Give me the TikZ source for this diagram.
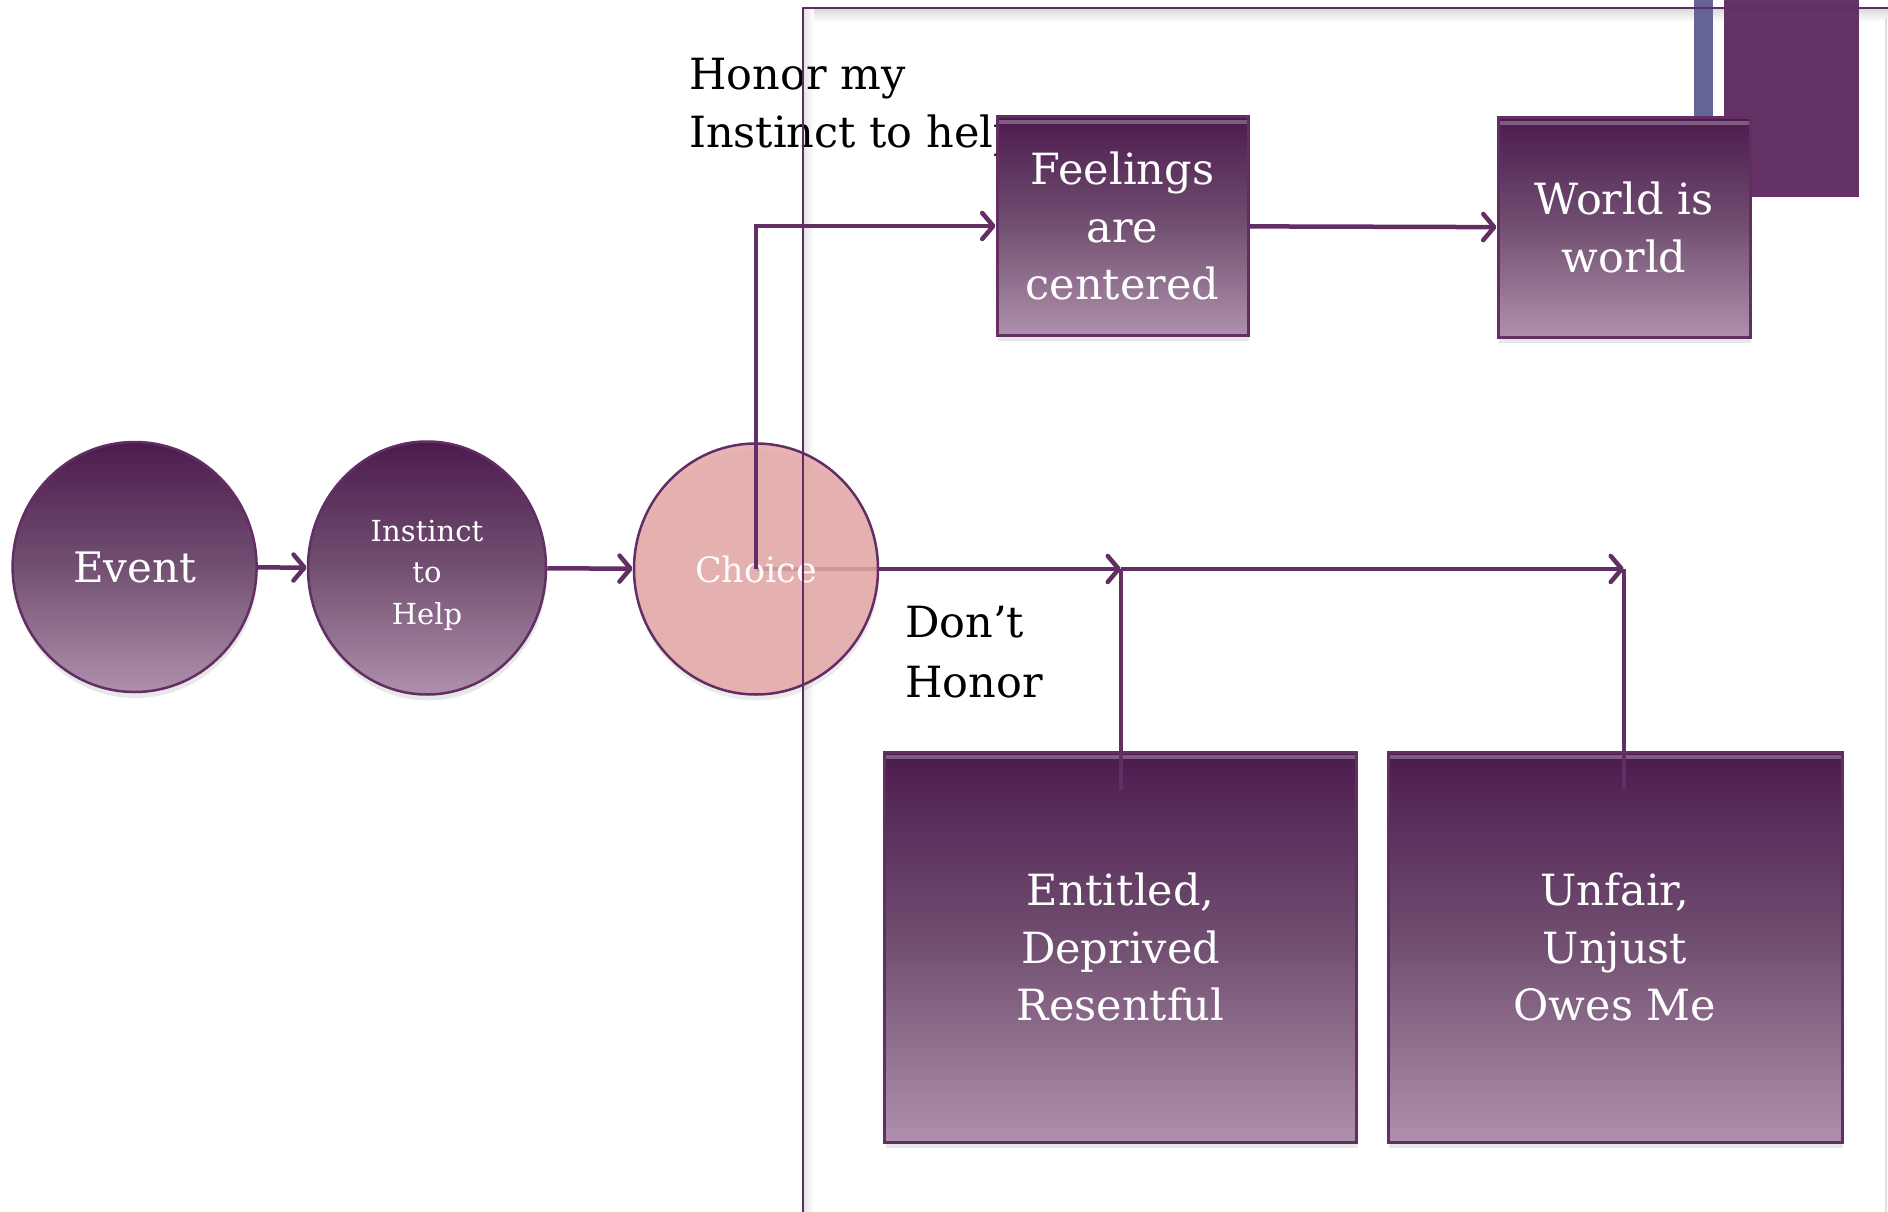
\documentclass[tikz,border=0pt]{standalone}
\usepackage{fontspec}
\setmainfont{DejaVu Serif}
\usetikzlibrary{arrows.meta,shapes.geometric,shadows,calc,backgrounds}
\definecolor{pdark}{RGB}{76,27,78}
\definecolor{pmid}{RGB}{114,80,114}
\definecolor{plight}{RGB}{174,144,172}
\definecolor{pline}{RGB}{99,46,100}
\definecolor{pframe}{RGB}{96,44,98}
\definecolor{pblock}{RGB}{100,50,100}
\definecolor{pblue}{RGB}{100,100,150}
\definecolor{choicefill}{RGB}{228,166,166}
\tikzset{
  grad/.style={draw=pline, top color=pdark, bottom color=plight, middle color=pmid, text=white,
    drop shadow={shadow xshift=1pt, shadow yshift=-6pt, opacity=0.18}},
  boxnode/.style={grad, rectangle, line width=3pt, inner sep=0pt,
    font=\fontsize{43}{57.5}\selectfont, align=center,
    path picture={\draw[white, opacity=0.28, line width=4pt]
      ([yshift=-5pt]path picture bounding box.north west) --
      ([yshift=-5pt]path picture bounding box.north east);}},
  ovalnode/.style={grad, ellipse, line width=2.5pt, inner sep=0pt, align=center},
  conn/.style={pline, line width=4.5pt},
  arr/.style={conn, -{Straight Barb[length=11pt,width=26pt,round]}},
  lbl/.style={text=black, inner sep=0pt, align=left, anchor=north west,
    font=\fontsize{43}{58}\selectfont},
}
\begin{document}
\begin{tikzpicture}[x=1pt,y=-1pt]
\useasboundingbox (0,0) rectangle (1888,1212);
% frame shadows
\shade[top color=black!14, bottom color=white] (804,9) rectangle (1888,22);
\shade[left color=black!10, right color=white] (804,9) rectangle (814,1212);
\draw[black!12, line width=1.2pt] (1886,18) -- (1886,1212);
% decorations top right
\fill[pblue] (1694,0) rectangle (1713,119);
\fill[pblock] (1724,0) rectangle (1859,197);
% labels
\node[lbl] (honor) at (689,58) {Honor my\\Instinct to help};
\node[lbl, font=\fontsize{43}{60}\selectfont] (dont) at (905,606) {Don’t\\Honor};
% nodes
\node[ovalnode, minimum width=244pt, minimum height=250pt,
  font=\fontsize{42}{50}\selectfont] (event) at (134.6,567) {Event};
\node[ovalnode, minimum width=238pt, minimum height=253pt,
  font=\fontsize{29}{41.5}\selectfont] (instinct) at (427,568) {\raisebox{0pt}[36pt][0pt]{}Instinct\\to\\Help};
\node[ellipse, draw=pline, line width=2.5pt, fill=choicefill, fill opacity=0.85,
  text opacity=1, text=white!96!choicefill, inner sep=0pt,
  minimum width=244pt, minimum height=251pt,
  font=\fontsize{35}{42}\selectfont,
  drop shadow={shadow xshift=1pt, shadow yshift=-6pt, opacity=0.15}] (choice) at (756,569) {Choice};
\node[boxnode, minimum width=251pt, minimum height=218pt] (feel) at (1122.5,226) {Feelings\\are\\centered};
\node[boxnode, minimum width=252pt, minimum height=219pt] (world) at (1624,227.5) {World is\\world};
\node[boxnode, minimum width=472pt, minimum height=390pt] (ent) at (1120.5,947) {Entitled,\\Deprived\\Resentful};
\node[boxnode, minimum width=454pt, minimum height=390pt] (unf) at (1615,947) {Unfair,\\Unjust\\Owes Me};
% junction coordinates
\coordinate (j1) at (1121,569);
\coordinate (j2) at (1624,569);
\coordinate (e1) at (1121,790);
\coordinate (e2) at (1624,790);
% connectors
\begin{pgfonlayer}{background}
\fill[white] (0,0) rectangle (1888,1212);
\draw[arr] (choice.center) -- (j1);
\end{pgfonlayer}
\draw[arr] (event) -- (instinct);
\draw[arr] (instinct) -- (choice);
\draw[arr] (choice.center) |- (feel.west);
\draw[arr] (feel) -- (world);
\draw[arr] (j1) -- (j2);
\draw[conn] (j1) -- (e1);
\draw[conn] (j2) -- (e2);
% frame
\draw[pframe, line width=2pt] (1888,8) -- (803,8) -- (803,1212);
\end{tikzpicture}
\end{document}
